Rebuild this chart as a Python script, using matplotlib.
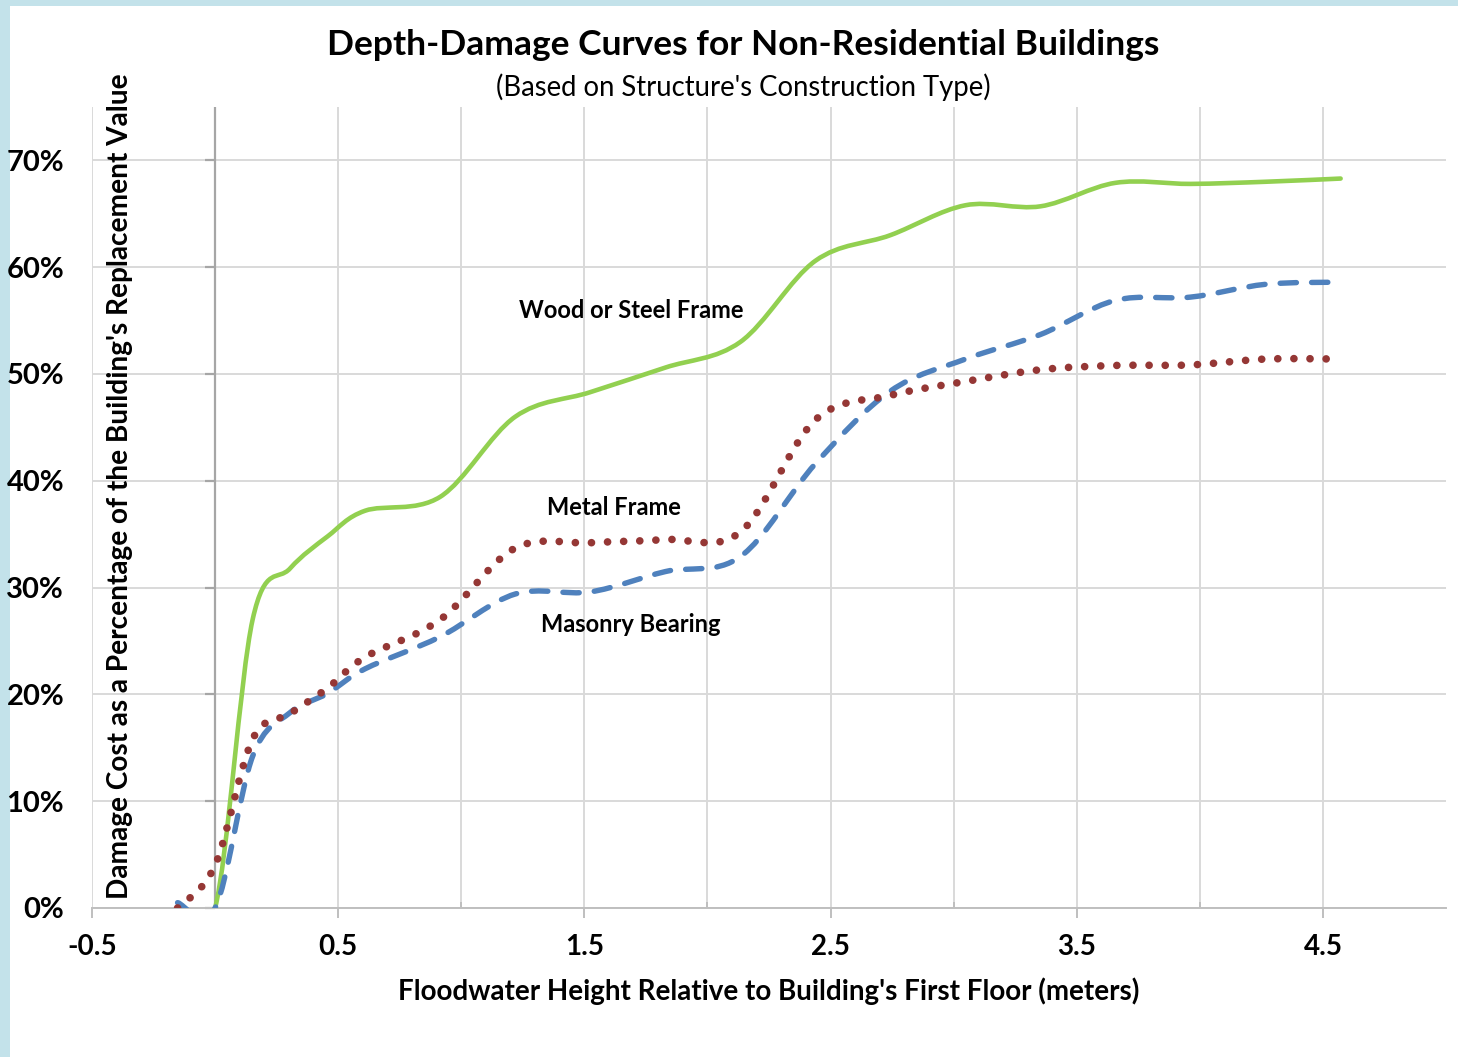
import numpy as np
import matplotlib
matplotlib.use("Agg")
import matplotlib.pyplot as plt
from matplotlib.path import Path
from matplotlib.patches import PathPatch, Rectangle
from matplotlib.markers import TICKLEFT

plt.rcParams['font.family'] = ['Lato', 'DejaVu Sans']

# depth points in feet (chart axis is in meters)
depth_ft = [-0.5, 0, 0.5, 1, 1.5, 2, 3, 4, 5, 6, 7, 8, 9, 10, 11, 12, 13, 14, 15]
wood_steel = [0, 0, 27.0, 31.8, 34.8, 37.2, 38.5, 46.0, 48.3, 50.6, 53.0, 60.6, 63.0,
              65.8, 65.7, 67.9, 67.8, 68.0, 68.3]
metal = [0, 4.0, 15.8, 18.2, 20.6, 23.5, 27.0, 33.7, 34.2, 34.5, 35.2, 45.7, 48.0,
         49.3, 50.4, 50.8, 50.85, 51.4, 51.4]
masonry = [0.5, 0, 14.2, 18.3, 20.1, 22.4, 25.4, 29.4, 29.6, 31.5, 32.9, 41.6, 48.4,
           51.4, 53.7, 56.9, 57.2, 58.4, 58.6]

depth_m = np.array(depth_ft) * 0.3048

y_ticks = [0, 10, 20, 30, 40, 50, 60, 70]
x_ticks = [-0.5, 0.5, 1.5, 2.5, 3.5, 4.5]


def smooth_path(xs, ys):
    # Excel-style smoothed line: cubic Bezier through every point
    pts = np.column_stack([xs, ys])
    n = len(pts)
    verts = [pts[0]]
    codes = [Path.MOVETO]
    for i in range(n - 1):
        p0 = pts[i - 1] if i > 0 else pts[i]
        p1 = pts[i]
        p2 = pts[i + 1]
        p3 = pts[i + 2] if i + 2 < n else pts[i + 1]
        verts += [p1 + (p2 - p0) / 6, p2 - (p3 - p1) / 6, p2]
        codes += [Path.CURVE4] * 3
    return Path(verts, codes)


fig = plt.figure(figsize=(14.58, 10.57), dpi=100, facecolor='#c3e2ea')
fig.patches.append(Rectangle((10 / 1458, 0), 1, 1 - 6 / 1057, transform=fig.transFigure,
                             facecolor='white', edgecolor='none', zorder=-10))

ax = fig.add_axes([92 / 1458, 1 - 908 / 1057, (1446 - 92) / 1458, (908 - 107) / 1057])
ax.set_facecolor('none')
ax.set_xlim(-0.5, 5.0)
ax.set_ylim(0, 75)

# gridlines every 0.5 m, labels every 1 m
ax.set_xticks(x_ticks)
ax.set_xticks(np.arange(0, 5.0, 1.0), minor=True)
ax.set_xticklabels([f"{t:g}" for t in x_ticks])
ax.set_yticks(y_ticks)
ax.set_yticklabels([f"{t}%" for t in y_ticks])
ax.grid(True, which='both', axis='x', color='#d9d9d9', lw=1.4)
ax.grid(True, which='major', axis='y', color='#d9d9d9', lw=1.4)
ax.set_axisbelow(True)

for s in ['top', 'right', 'left']:
    ax.spines[s].set_visible(False)
ax.spines['bottom'].set_color('#bfbfbf')
ax.spines['bottom'].set_linewidth(1.4)

ax.tick_params(axis='x', which='major', direction='out', length=7, width=1.4,
               color='#bfbfbf', pad=12, labelsize=20)
ax.tick_params(axis='x', which='minor', direction='in', length=4, width=1.4, color='#bfbfbf')
ax.tick_params(axis='y', length=0, pad=20, labelsize=21)
for lbl in ax.get_xticklabels() + ax.get_yticklabels():
    lbl.set_fontweight('bold')

# vertical axis crosses at 0
ax.axvline(0, color='#a6a6a6', lw=1.6, zorder=1)
ax.plot(np.zeros(len(y_ticks)), y_ticks, ls='none', marker=TICKLEFT, ms=7, mew=1.6,
        color='#a6a6a6', clip_on=False, zorder=1)

ax.add_patch(PathPatch(smooth_path(depth_m, wood_steel), fill=False, edgecolor='#92d050',
                       lw=3.3, capstyle='round', joinstyle='round', zorder=3))
ax.add_patch(PathPatch(smooth_path(depth_m, masonry), fill=False, edgecolor='#4f81bd',
                       lw=3.9, linestyle=(0, (3.0, 2.8)), capstyle='round', joinstyle='round',
                       zorder=4))
ax.add_patch(PathPatch(smooth_path(depth_m, metal), fill=False, edgecolor='#953735',
                       lw=5.5, linestyle=(0, (0.01, 2.1)), capstyle='round', joinstyle='round',
                       zorder=5))

ax.text(1.69, 55.9, "Wood or Steel Frame", ha='center', va='center', fontsize=17, fontweight='bold')
ax.text(1.62, 37.5, "Metal Frame", ha='center', va='center', fontsize=17, fontweight='bold')
ax.text(1.69, 26.5, "Masonry Bearing", ha='center', va='center', fontsize=17, fontweight='bold')

fig.text(0.5095, 1 - 45 / 1057, "Depth-Damage Curves for Non-Residential Buildings",
         ha='center', va='center', fontsize=25.5, fontweight='bold')
fig.text(0.5095, 1 - 87 / 1057, "(Based on Structure's Construction Type)",
         ha='center', va='center', fontsize=19.8)
fig.text(120 / 1458, 1 - 486 / 1057,
         "Damage Cost as a Percentage of the Building's Replacement Value",
         ha='center', va='center', rotation=90, fontsize=20.2, fontweight='bold')
fig.text(769 / 1458, 1 - 991 / 1057,
         "Floodwater Height Relative to Building's First Floor (meters)",
         ha='center', va='center', fontsize=20, fontweight='bold')

fig.savefig("out.png", dpi=100, facecolor=fig.get_facecolor())
